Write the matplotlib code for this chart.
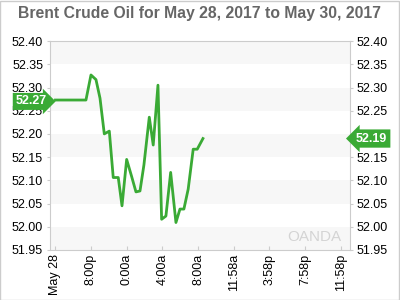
import matplotlib.pyplot as plt
import matplotlib.transforms as mtransforms

plt.rcParams['font.family'] = ['Liberation Sans', 'DejaVu Sans']

# hours since the "May 28" tick
hours = [0.05, 3.46, 4.02, 4.58, 5.03, 5.51, 6.07, 6.51, 7.07, 7.49, 8.01, 8.57,
         9.05, 9.50, 9.94, 10.54, 10.98, 11.51, 11.92, 12.40, 12.93, 13.52,
         13.97, 14.41, 14.89, 15.45, 15.90, 16.54]
price = [52.273, 52.273, 52.327, 52.317, 52.277, 52.200, 52.206, 52.106, 52.106,
         52.045, 52.145, 52.108, 52.075, 52.077, 52.133, 52.236, 52.176, 52.305,
         52.016, 52.023, 52.117, 52.009, 52.038, 52.038, 52.081, 52.167, 52.167,
         52.19]

tick_pos = [0, 4, 8, 12, 16, 19.97, 23.97, 27.97, 31.97]
tick_labels = ['May 28', '8:00p', '0:00a', '4:00a', '8:00a', '11:58a', '3:58p', '7:58p', '11:58p']
y_ticks = [51.95, 52.00, 52.05, 52.10, 52.15, 52.20, 52.25, 52.30, 52.35, 52.40]
open_label = '52.27'
last_label = '52.19'

green = '#3aaa35'
fig = plt.figure(figsize=(4, 3), dpi=100)
fig.patches.append(plt.Rectangle((0.001, 0.001), 0.997, 0.996, transform=fig.transFigure,
                                 fill=False, ec='#cccccc', lw=1))
ax = fig.add_axes([0.125, 0.167, 0.75, 0.696])

for lo in [51.95, 52.05, 52.15, 52.25, 52.35]:
    ax.axhspan(lo, lo + 0.05, color='#f7f7f7', lw=0, zorder=0)

ax.plot(hours, price, color=green, lw=2, zorder=3)

ax.set_xlim(-0.56, 32.98)
ax.set_ylim(51.95, 52.40)
ax.set_yticks(y_ticks)
ax.set_yticklabels(['%.2f' % v for v in y_ticks])
ax.set_xticks(tick_pos)
ax.set_xticklabels(tick_labels, rotation=90)
ax.tick_params(axis='both', labelsize=9, colors='#cccccc', labelcolor='black',
               length=3, direction='in', pad=3)
ax.tick_params(axis='y', right=True, labelright=True, direction='out', length=2)
for s in ax.spines.values():
    s.set_color('#cccccc')

# the last-price box covers the right-hand 52.20 label
fig.canvas.draw()
for tick in ax.yaxis.get_major_ticks():
    if abs(tick.get_loc() - 52.20) < 1e-6:
        tick.label2.set_visible(False)

trans = mtransforms.blended_transform_factory(ax.transAxes, ax.transData)
ax.text(-0.012, 52.27, open_label, transform=trans, ha='right', va='center',
        fontsize=9, color='white', weight='bold', zorder=10, clip_on=False,
        bbox=dict(boxstyle='rarrow,pad=0.2', fc=green, ec='none'))
ax.text(1.02, 52.19, last_label, transform=trans, ha='left', va='center',
        fontsize=9, color='white', weight='bold', zorder=10, clip_on=False,
        bbox=dict(boxstyle='larrow,pad=0.25', fc=green, ec='none'))

ax.text(0.97, 0.06, 'OANDA', transform=ax.transAxes, ha='right', va='center',
        fontsize=11, color='#d4d4d4')

fig.text(0.5, 0.955, 'Brent Crude Oil for May 28, 2017 to May 30, 2017',
         ha='center', va='center', fontsize=11.3, weight='bold', color='#666666')

fig.savefig('out.png', dpi=100)
